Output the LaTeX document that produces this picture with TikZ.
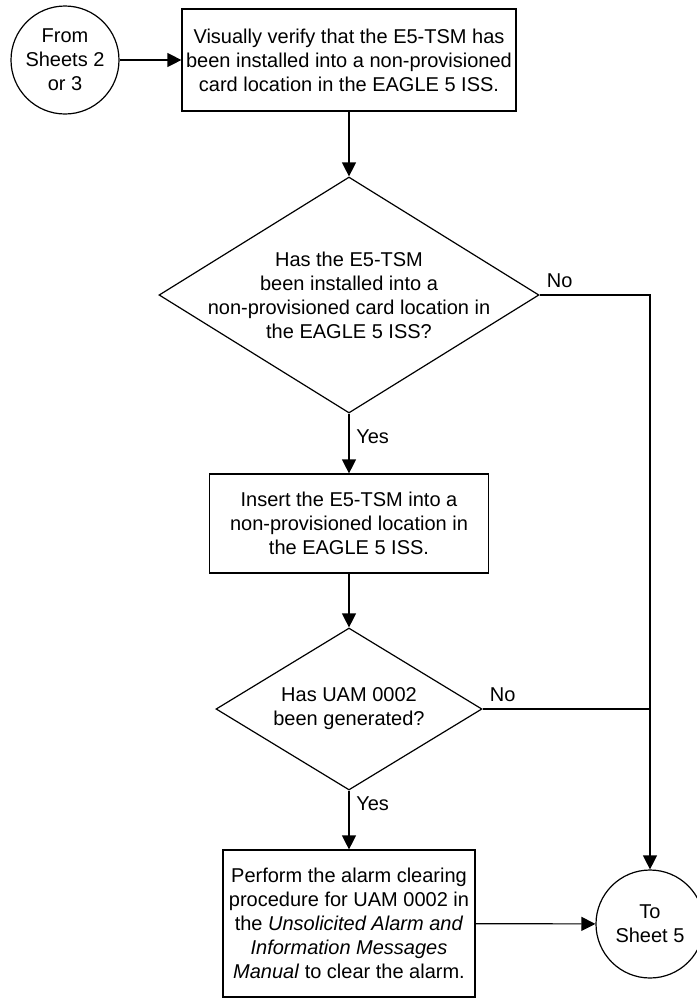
\documentclass[tikz,border=0pt]{standalone}
\usepackage{fontspec}
\setmainfont{Liberation Sans}
\usetikzlibrary{shapes.geometric,arrows.meta}

\begin{document}
\begin{tikzpicture}[x=0.5pt,y=-0.5pt,line width=0.6pt,
	flow/.style={-{Triangle[length=7pt,width=7pt]}},
	procbox/.style={draw, align=center, inner sep=2pt},
	sheet/.style={draw, circle, align=center, minimum size=54pt, inner sep=0pt},
	decision/.style={draw, diamond, inner sep=0pt}]
	\useasboundingbox (0,0) rectangle (697,998);
	\node[sheet] (fromsheet) at (65,60) {From\\Sheets 2\\or 3};
	\node[procbox, minimum width=167pt, minimum height=51pt] (verify) at (349,60) {Visually verify that the E5-TSM has\\been installed into a non-provisioned\\card location in the EAGLE 5 ISS.};
	\node[decision, minimum width=190pt, minimum height=118pt, label={[align=center, name=q1text]center:Has the E5-TSM\\been installed into a\\non-provisioned card location in\\the EAGLE 5 ISS?}] (installed) at (349,295) {};
	\node[procbox, minimum width=139.5pt, minimum height=49.5pt] (insert) at (349,523.5) {Insert the E5-TSM into a\\non-provisioned location in\\the EAGLE 5 ISS.};
	\node[decision, minimum width=133pt, minimum height=81pt, label={[align=center, name=q2text]center:Has UAM 0002\\been generated?}] (generated) at (349,709) {};
	\node[procbox, minimum width=126pt, minimum height=73.5pt] (alarm) at (349,923.5) {Perform the alarm clearing\\procedure for UAM 0002 in\\the \textit{Unsolicited Alarm and}\\\textit{Information Messages}\\\textit{Manual} to clear the alarm.};
	\node[sheet] (tosheet) at (650,924) {To\\Sheet 5};
	\draw[flow] (fromsheet) -- (verify);
	\draw[flow] (verify) -- (installed);
	\draw[flow] (installed) -- (insert) node[pos=0.38, right] (yes1) {Yes};
	\draw[flow] (installed.east) -| (tosheet.north) node[at start, above right] (no1) {No};
	\draw[flow] (insert) -- (generated);
	\draw (generated.east) -- (generated.east -| tosheet) node[at start, above right] (no2) {No};
	\draw[flow] (generated) -- (alarm) node[pos=0.23, right] (yes2) {Yes};
	\draw[flow] (alarm) -- (tosheet);
\end{tikzpicture}
\end{document}
